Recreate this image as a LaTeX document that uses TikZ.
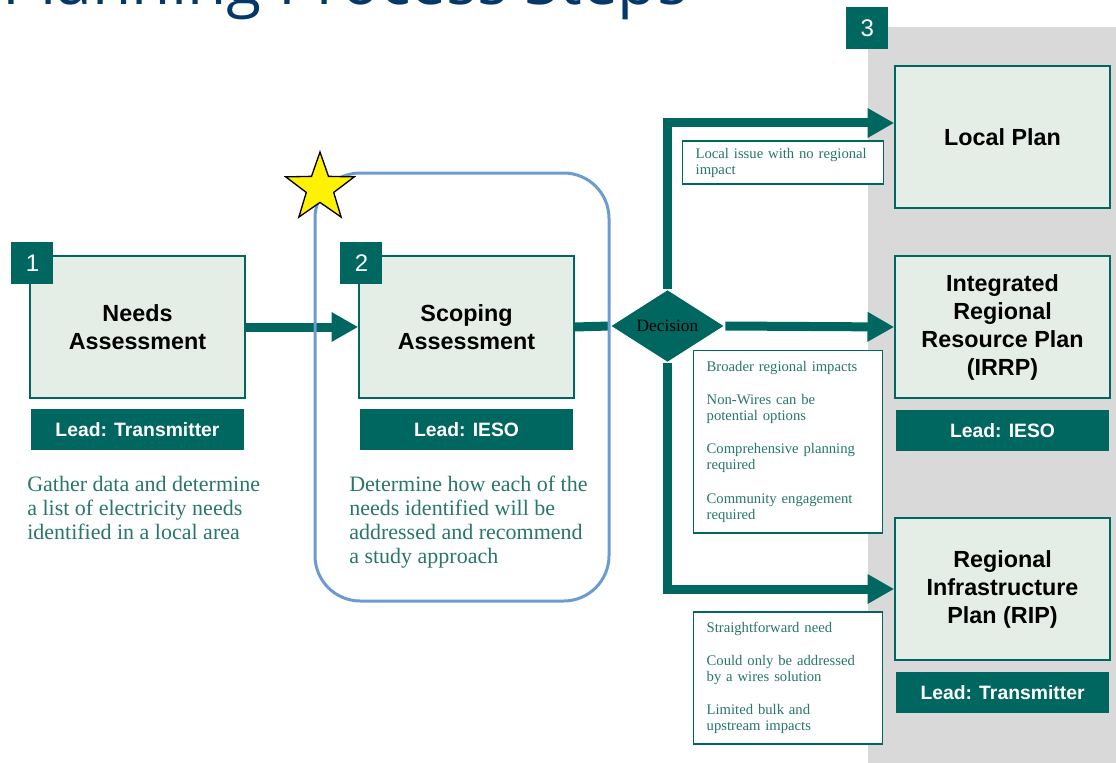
\documentclass[tikz,border=0pt]{standalone}
\usepackage{fontspec}
\setmainfont{Liberation Serif}
\setsansfont{Liberation Sans}
\newfontfamily\titlefont{Open Sans}
\usetikzlibrary{arrows.meta,shapes.geometric,positioning}
\definecolor{iesoteal}{RGB}{0,102,96}
\definecolor{desctext}{RGB}{40,118,108}
\definecolor{paleg}{RGB}{229,238,230}
\definecolor{panelgrey}{RGB}{217,217,217}
\definecolor{ringblue}{RGB}{108,155,210}
\definecolor{titleblue}{RGB}{5,55,105}

\begin{document}
\begin{tikzpicture}[x=0.75pt,y=-0.75pt,
  stepbox/.style={draw=iesoteal, line width=1.5pt, fill=paleg, minimum width=161pt, minimum height=106.5pt, align=center, font=\sffamily\bfseries\fontsize{17.5}{21}\selectfont},
  leadbar/.style={fill=iesoteal, text=white, minimum width=160pt, minimum height=31pt, inner sep=0pt, font=\sffamily\bfseries\fontsize{14.5}{17}\selectfont},
  numtag/.style={fill=iesoteal, text=white, minimum size=31.5pt, inner sep=0pt, anchor=north west, font=\sffamily\fontsize{18}{20}\selectfont},
  desc/.style={anchor=north west, inner sep=0pt, align=left, text=desctext, font=\fontsize{16.5}{18}\selectfont},
  notebox/.style={draw=iesoteal, line width=1pt, fill=white, text=desctext, align=left, inner xsep=10pt, font=\fontsize{11}{12}\selectfont},
  flow/.style={draw=iesoteal, line width=6.75pt, -{Triangle[length=20pt,width=21pt]}},
  pipe/.style={draw=iesoteal, line width=6.75pt}]
\useasboundingbox (0,0) rectangle (1116,763);
\clip (0,0) rectangle (1116,763);

% grey column for the plans
\fill[panelgrey] (868,27) rectangle (1116,763);
\node[anchor=base east, inner sep=0pt, text=titleblue, font=\titlefont\fontsize{48}{54}\selectfont] (title) at (688,5) {Planning Process Steps};

% step 1 and 2
\node[stepbox] (needs) at (137.5,327) {Needs\\Assessment};
\node[leadbar, below=7pt of needs] (lead1) {Lead: Transmitter};
\node[numtag] (tag1) at ([shift={(-18,-13)}]needs.north west) {1};
\node[desc] (desc1) at (27,476) {Gather data and determine\\a list of electricity needs\\identified in a local area};

\node[stepbox] (scoping) at (466.5,327) {Scoping\\Assessment};
\node[leadbar, below=7pt of scoping] (lead2) {Lead: IESO};
\node[numtag] (tag2) at ([shift={(-18,-13)}]scoping.north west) {2};
\node[desc] (desc2) at (349,476) {Determine how each of the\\needs identified will be\\addressed and recommend\\a study approach};

% step 3
\node[numtag] (tag3) at (846,7) {3};
\node[stepbox] (localplan) at (1002.5,137) {Local Plan};
\node[stepbox] (irrp) at (1002.5,327) {Integrated\\Regional\\Resource Plan\\(IRRP)};
\node[leadbar, below=8pt of irrp] (lead3) {Lead: IESO};
\node[stepbox] (rip) at (1002.5,589) {Regional\\Infrastructure\\Plan (RIP)};
\node[leadbar, below=8pt of rip] (lead4) {Lead: Transmitter};

\node[diamond, fill=iesoteal, draw=white, line width=0.75pt, minimum width=86pt, minimum height=42pt, inner sep=0pt, font=\fontsize{13}{15}\selectfont] (decide) at (667.5,326) {Decision};

\node[notebox, text width=131pt, minimum height=32pt] (localnote) at (783,162.5) {Local issue with no regional\\impact};
\node[notebox, text width=122pt, minimum height=137pt] (irrpnote) at (788,441.5) {Broader regional impacts\\[13pt]Non-Wires can be\\potential options\\[13pt]Comprehensive planning\\required\\[13pt]Community engagement\\required};
\node[notebox, text width=122pt, minimum height=99pt] (ripnote) at (788,678) {Straightforward need\\[13pt]Could only be addressed\\by a wires solution\\[13pt]Limited bulk and\\upstream impacts};

% connectors
\draw[flow] (needs.east) -- (scoping.west);
\draw[pipe] (scoping.east) -- (decide.west);
\draw[flow] (decide.east) -- (irrp.west);
\draw[flow] (decide.north) |- ([yshift=10.5pt]localplan.west);
\draw[flow] (decide.south) |- (rip.west);

% focus on step 2
\draw[ringblue, line width=2.25pt, rounded corners=34pt] (315,173) rectangle (609,601);
\node[star, star points=5, star point ratio=2.5, minimum size=54pt, inner sep=0pt, fill=yellow, draw=black, line width=1pt] (goldstar) at (320,188) {};
\end{tikzpicture}
\end{document}
